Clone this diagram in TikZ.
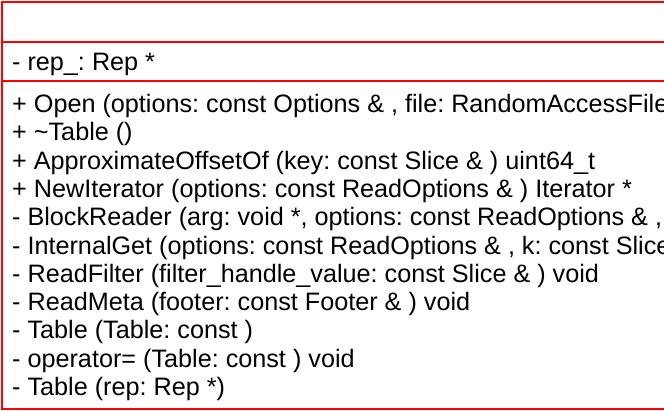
\documentclass[tikz,border=0pt]{standalone}
\usepackage{fontspec}
\setmainfont{Liberation Sans}
\frenchspacing
\begin{document}
\begin{tikzpicture}[x=1pt,y=-1pt,
  frame/.style={draw=red,line width=2pt},
  member/.style={anchor=base west,inner sep=0pt,font=\fontsize{25.2}{28}\selectfont}]
\useasboundingbox (0,0) rectangle (664,410);
\clip (0,0) rectangle (664,410);
\fill[white] (0,0) rectangle (664,410);
\coordinate (tl) at (1.5,1.5);
\coordinate (bl) at (1.5,408.5);
\coordinate (tr) at (700,1.5);
\coordinate (br) at (700,408.5);
\coordinate (s1l) at (1.5,42);
\coordinate (s1r) at (700,42);
\coordinate (s2l) at (1.5,81);
\coordinate (s2r) at (700,81);
\draw[frame] (tr) -- (tl) -- (bl) -- (br);
\draw[frame] (s1l) -- (s1r);
\draw[frame] (s2l) -- (s2r);
\node[member] (attr) at (12,70.5) {- rep\_: Rep *};
\node[member] (m1) at (12,112.5) {+ Open (options: const Options \& , file: RandomAccessFile};
\node[member] (m2) at (12,140.8) {+ \textasciitilde Table ()};
\node[member] (m3) at (12,169.1) {+ ApproximateOffsetOf (key: const Slice \& ) uint64\_t};
\node[member] (m4) at (12,197.4) {+ NewIterator (options: const ReadOptions \& ) Iterator *};
\node[member] (m5) at (12,225.7) {- BlockReader (arg: void *, options: const ReadOptions \& , };
\node[member] (m6) at (12,254.0) {- InternalGet (options: const ReadOptions \& , k: const Slice};
\node[member] (m7) at (12,282.3) {- ReadFilter (filter\_handle\_value: const Slice \& ) void};
\node[member] (m8) at (12,310.6) {- ReadMeta (footer: const Footer \& ) void};
\node[member] (m9) at (12,338.9) {- Table (Table: const )};
\node[member] (m10) at (12,367.2) {- operator= (Table: const ) void};
\node[member] (m11) at (12,395.5) {- Table (rep: Rep *)};
\end{tikzpicture}
\end{document}
